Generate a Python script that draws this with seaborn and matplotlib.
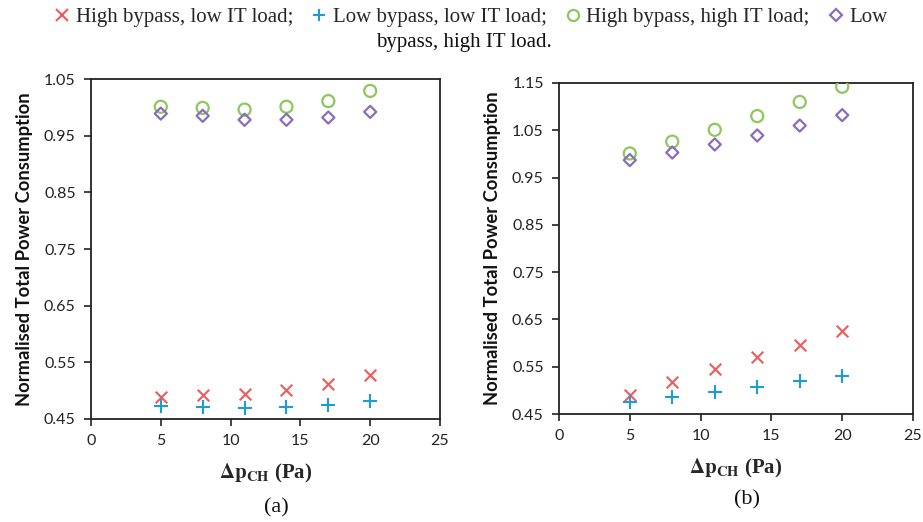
import matplotlib
matplotlib.use("Agg")
import matplotlib.pyplot as plt
from matplotlib.lines import Line2D
import seaborn as sns
import pandas as pd

# ---- data ----
dp = [5, 8, 11, 14, 17, 20]
series_names = ["High bypass, low IT load", "Low bypass, low IT load",
                "High bypass, high IT load", "Low bypass, high IT load"]
# panel (a)
a_high_low = [0.489, 0.493, 0.495, 0.502, 0.512, 0.528]
a_low_low = [0.473, 0.472, 0.470, 0.471, 0.474, 0.481]
a_high_high = [1.001, 0.999, 0.996, 1.001, 1.011, 1.029]
a_low_high = [0.989, 0.985, 0.978, 0.978, 0.982, 0.992]
# panel (b)
b_high_low = [0.491, 0.517, 0.545, 0.570, 0.596, 0.626]
b_low_low = [0.476, 0.485, 0.496, 0.507, 0.519, 0.531]
b_high_high = [1.001, 1.026, 1.051, 1.080, 1.110, 1.142]
b_low_high = [0.987, 1.003, 1.020, 1.039, 1.060, 1.082]

xticks = [0, 5, 10, 15, 20, 25]
a_yticks = [0.45, 0.55, 0.65, 0.75, 0.85, 0.95, 1.05]
b_yticks = [0.45, 0.55, 0.65, 0.75, 0.85, 0.95, 1.05, 1.15]

colors = ["#F05A5A", "#1E9CD7", "#8DC75D", "#8A6DB8"]
markers = ["x", "+", "o", "D"]
sizes = [70, 90, 75, 38]

sns.set_theme(style="white")
plt.rcParams["font.family"] = ["Lato", "DejaVu Sans"]
plt.rcParams["mathtext.fontset"] = "stix"

fig = plt.figure(figsize=(9.23, 5.22), dpi=100)
W, H = 923, 522
axA = fig.add_axes([91 / W, (H - 419) / H, 349 / W, 340 / H])
axB = fig.add_axes([559 / W, (H - 414) / H, 354 / W, 331 / H])


def draw(ax, data, yticks, ylim, letter):
    for vals, name, c, m, s in zip(data, series_names, colors, markers, sizes):
        df = pd.DataFrame({"dp": dp, "val": vals})
        if m in ("o", "D"):
            sns.scatterplot(data=df, x="dp", y="val", ax=ax, marker=m, s=s,
                            color=c, facecolor="none", edgecolor=c,
                            linewidth=1.6, legend=False, zorder=3)
        else:
            sns.scatterplot(data=df, x="dp", y="val", ax=ax, marker=m, s=s,
                            color=c, edgecolor=c, linewidth=1.5,
                            legend=False, zorder=3)
    ax.set_xlim(0, 25)
    ax.set_ylim(*ylim)
    ax.set_xticks(xticks)
    ax.set_yticks(yticks)
    ax.set_xticklabels([str(t) for t in xticks], fontsize=11.5, color="#222222")
    ax.set_yticklabels([f"{t:.2f}" for t in yticks], fontsize=11.5, color="#222222")
    ax.tick_params(axis="both", direction="out", length=5, width=1.2,
                   color="#222222", pad=6, left=True, bottom=True)
    for sp in ax.spines.values():
        sp.set_visible(True)
        sp.set_color("#222222")
        sp.set_linewidth(1.3)
    ax.set_ylabel("Normalised Total Power Consumption", fontsize=13.2,
                  fontweight="bold", color="#111111", labelpad=8)
    ax.set_xlabel(r"$\mathbf{\Delta p_{CH}}$" + " (Pa)", fontsize=15,
                  fontweight="bold", family=["Liberation Serif"], labelpad=10)
    ax.text(0.53, -0.26, letter, transform=ax.transAxes, ha="center", va="center",
            fontsize=16, family=["Liberation Serif"], color="#111111")
    ax.grid(False)


draw(axA, [a_high_low, a_low_low, a_high_high, a_low_high], a_yticks, (0.45, 1.05), "(a)")
draw(axB, [b_high_low, b_low_low, b_high_high, b_low_high], b_yticks, (0.45, 1.15), "(b)")

handles = []
for c, m in zip(colors, markers):
    if m in ("o", "D"):
        handles.append(Line2D([], [], linestyle="", marker=m, markersize=8 if m == "o" else 6,
                              markerfacecolor="none", markeredgecolor=c, markeredgewidth=1.6))
    else:
        handles.append(Line2D([], [], linestyle="", marker=m, markersize=9,
                              color=c, markeredgewidth=1.5))
labels = ["High bypass, low IT load;", "Low bypass, low IT load;",
          "High bypass, high IT load;", "Low"]
fig.legend(handles, labels, loc="upper center", bbox_to_anchor=(0.51, 1.022), ncol=4,
           frameon=False, handlelength=0.8, handletextpad=0.25, columnspacing=0.85,
           prop={"family": "Liberation Serif", "size": 15})
fig.text(0.503, 0.918, "bypass, high IT load.", ha="center", va="center",
         fontsize=15, family=["Liberation Serif"], color="#111111")

fig.savefig("out.png", dpi=100)
